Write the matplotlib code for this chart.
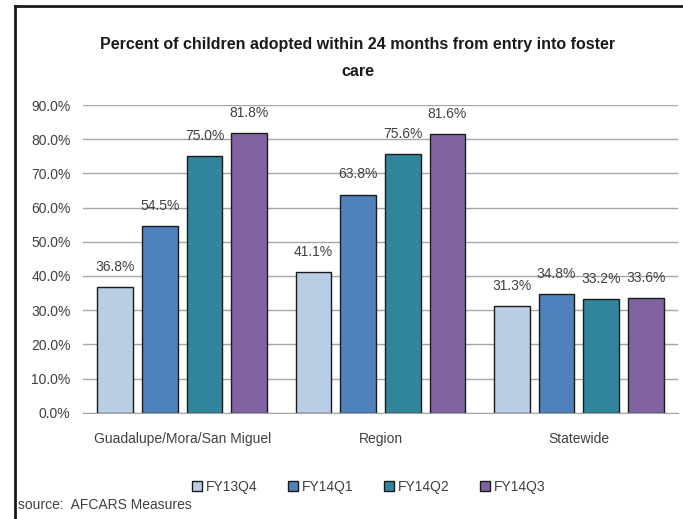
import matplotlib
matplotlib.use("Agg")
import matplotlib.pyplot as plt
from matplotlib.patches import Patch
import numpy as np

categories = ["Guadalupe/Mora/San Miguel", "Region", "Statewide"]
series_names = ["FY13Q4", "FY14Q1", "FY14Q2", "FY14Q3"]
fy13q4 = [36.8, 41.1, 31.3]
fy14q1 = [54.5, 63.8, 34.8]
fy14q2 = [75.0, 75.6, 33.2]
fy14q3 = [81.8, 81.6, 33.6]
series_values = [fy13q4, fy14q1, fy14q2, fy14q3]
colors = ["#B9CDE5", "#4F81BD", "#31859C", "#8064A2"]
yticks = [0, 10, 20, 30, 40, 50, 60, 70, 80, 90]
title = "Percent of children adopted within 24 months from entry into foster\ncare"
source = "source:  AFCARS Measures"

plt.rcParams["font.family"] = ["Liberation Sans", "DejaVu Sans"]

W, H = 683, 519
fig = plt.figure(figsize=(W / 100, H / 100), dpi=100)
ax = fig.add_axes([83 / W, 1 - 412.7 / H, (678 - 83) / W, (412.7 - 105) / H])

x = np.arange(len(categories))
pitch = 0.225
width = 0.18
for i, (vals, c, name) in enumerate(zip(series_values, colors, series_names)):
    pos = x + (i - 1.5) * pitch
    bars = ax.bar(pos, vals, width, color=c, edgecolor="#1a1a1a", linewidth=1.0,
                  label=name, zorder=3)
    for b, v in zip(bars, vals):
        ax.annotate(f"{v:.1f}%", (b.get_x() + b.get_width() / 2, v),
                    xytext=(0, 14.5), textcoords="offset points",
                    ha="center", va="center", fontsize=10, color="#404040")

ax.set_xlim(-0.5, 2.5)
ax.set_ylim(0, 90)
ax.set_yticks(yticks)
ax.set_yticklabels([f"{t:.1f}%" for t in yticks], fontsize=10, color="#404040")
ax.set_xticks(x)
ax.set_xticklabels(categories, fontsize=10, color="#404040")
ax.tick_params(axis="both", length=0)
ax.tick_params(axis="y", pad=9)
ax.tick_params(axis="x", pad=14)
ax.grid(axis="y", color="#A6A6A6", linewidth=1.0, zorder=0)
for s in ["top", "right", "left"]:
    ax.spines[s].set_visible(False)
ax.spines["bottom"].set_color("#A6A6A6")
ax.spines["bottom"].set_zorder(4)

title_lines = title.split("\n")
for k, line in enumerate(title_lines):
    fig.text(358 / W, 1 - (44 + 28 * k) / H, line, ha="center", va="center",
             fontsize=11.5, fontweight="bold", color="#1a1a1a")

handles = [Patch(facecolor=c, edgecolor="#1a1a1a", linewidth=1.0) for c in colors]
fig.legend(handles, series_names, loc="center", bbox_to_anchor=(369 / W, 1 - 487 / H),
           ncol=4, frameon=False, fontsize=10, handlelength=0.7, handleheight=0.7,
           handletextpad=0.3, columnspacing=2.2, labelcolor="#404040")

fig.text(18 / W, 1 - 505 / H, source, ha="left", va="center", fontsize=10,
         color="#404040")

# cropped chart frame (left and top edges visible)
fig.add_artist(plt.Line2D([15 / W, 15 / W], [0, 1 - 6 / H], transform=fig.transFigure,
                          color="#1a1a1a", linewidth=2))
fig.add_artist(plt.Line2D([15 / W, 1], [1 - 6 / H, 1 - 6 / H], transform=fig.transFigure,
                          color="#1a1a1a", linewidth=2))

fig.savefig("out.png", dpi=100)
